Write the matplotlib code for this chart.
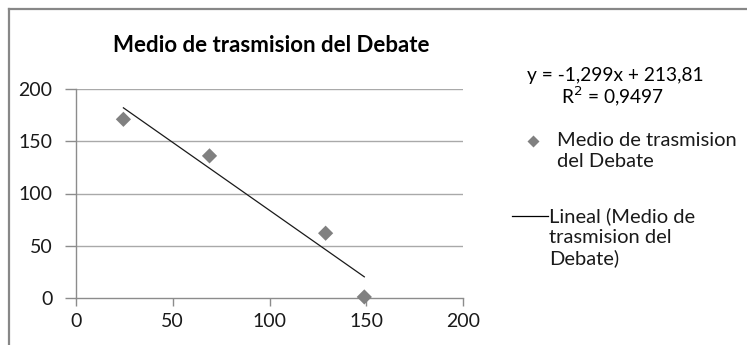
import numpy as np
import matplotlib.pyplot as plt
from matplotlib.lines import Line2D

plt.rcParams['font.family'] = ['Lato', 'DejaVu Sans']

# Datos del grafico
x_vals = [24.5, 69, 129, 149]
y_vals = [171, 136, 62, 1]
slope = -1.299
intercept = 213.81
r2 = 0.9497
x_ticks = [0, 50, 100, 150, 200]
y_ticks = [0, 50, 100, 150, 200]

title = "Medio de trasmision del Debate"
series_label = "Medio de trasmision\ndel Debate"
trend_label = "Lineal (Medio de\ntrasmision del\nDebate)"

W, H = 747, 345
fig = plt.figure(figsize=(W / 100, H / 100), dpi=100)
fig.patch.set_facecolor('white')


def fx(px):
    return px / W


def fy(py):
    return 1 - py / H


# marco del area del grafico (cortado a la derecha y abajo)
frame_col = '#878787'
fig.add_artist(Line2D([fx(9), fx(9)], [fy(9), fy(360)], color=frame_col, lw=1.6))
fig.add_artist(Line2D([fx(9), fx(760)], [fy(9), fy(9)], color=frame_col, lw=1.6))

ax = fig.add_axes([fx(76), fy(298), fx(463) - fx(76), fy(89) - fy(298)])
ax.set_xlim(0, 200)
ax.set_ylim(0, 200)

grid_col = '#a9a9a9'
axis_col = '#8c8c8c'
for v in y_ticks[1:]:
    ax.axhline(v, color=grid_col, lw=1.0, zorder=0)

for s in ['top', 'right']:
    ax.spines[s].set_visible(False)
for s in ['left', 'bottom']:
    ax.spines[s].set_color(axis_col)
    ax.spines[s].set_linewidth(1.0)

ax.set_xticks(x_ticks)
ax.set_yticks(y_ticks)
ax.tick_params(axis='both', direction='out', length=6, width=1.0, color=axis_col,
               labelsize=14, labelcolor='#1a1a1a', pad=5)
ax.tick_params(axis='y', length=8, pad=9)

ax.scatter(x_vals, y_vals, marker='D', s=60, color='#808080', edgecolor='none', zorder=3,
           clip_on=False)

# linea de tendencia a partir de la ecuacion
tx = np.array([min(x_vals), max(x_vals)])
ax.plot(tx, slope * tx + intercept, color='#1a1a1a', lw=0.9, zorder=2)

fig.text(fx(271), fy(46), title, ha='center', va='center', fontsize=16, fontweight='bold',
         color='black')

eq = "y = {}x + {}".format(f"{slope:.3f}".replace('.', ','), f"{intercept:.2f}".replace('.', ','))
fig.text(fx(615), fy(75), eq, ha='center', va='center', fontsize=13.8, color='black')
fig.text(fx(612.5), fy(96), "R$^2$ = " + f"{r2:.4f}".replace('.', ','), ha='center',
         va='center', fontsize=13.8, color='black')

# leyenda
fig.add_artist(Line2D([fx(533)], [fy(141)], marker='D', markersize=6.5, color='#808080',
                      markeredgecolor='none', linestyle='none'))
fig.text(fx(557), fy(132), series_label, ha='left', va='top', fontsize=14.5,
         color='#1a1a1a', linespacing=1.27)
fig.add_artist(Line2D([fx(512), fx(548)], [fy(216), fy(216)], color='black', lw=0.9))
fig.text(fx(549), fy(207), trend_label, ha='left', va='top', fontsize=14.5,
         color='#1a1a1a', linespacing=1.27)

fig.savefig('out.png', dpi=100, facecolor='white')
